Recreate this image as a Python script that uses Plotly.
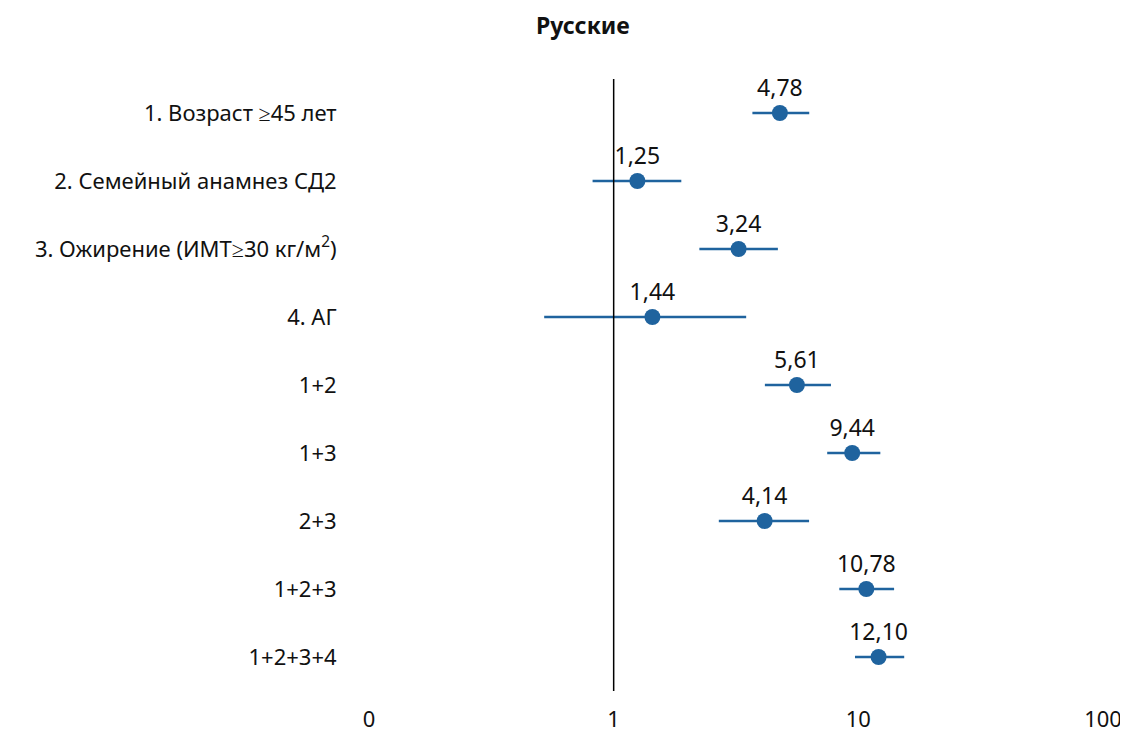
import plotly.graph_objects as go

categories = ["1. Возраст ≥45 лет", "2. Семейный анамнез СД2", "3. Ожирение (ИМТ≥30 кг/м<sup>2</sup>)",
              "4. АГ", "1+2", "1+3", "2+3", "1+2+3", "1+2+3+4"]
odds = [4.78, 1.25, 3.24, 1.44, 5.61, 9.44, 4.14, 10.78, 12.10]
ci_low = [3.69, 0.82, 2.24, 0.52, 4.15, 7.46, 2.69, 8.36, 9.69]
ci_high = [6.30, 1.89, 4.69, 3.48, 7.73, 12.30, 6.29, 14.0, 15.4]
labels = [f"{v:.2f}".replace(".", ",") for v in odds]
tick_vals = [0.1, 1, 10, 100]
tick_text = ["0", "1", "10", "100"]

color = "#1f639e"
font = "Noto Sans"

# the page body has an 8px margin, so the figure is drawn 8px in from the top-left
W, H = 1120, 730
L, R, T, B = 361, 25, 71, 47

fig = go.Figure()
fig.add_trace(go.Scatter(
    x=odds, y=categories, mode="markers+text",
    marker=dict(size=16, color=color),
    text=labels, textposition="top center",
    textfont=dict(size=23, color="#111111", family=font),
    error_x=dict(type="data", symmetric=False,
                 array=[h - v for h, v in zip(ci_high, odds)],
                 arrayminus=[v - l for v, l in zip(odds, ci_low)],
                 color=color, thickness=2.5, width=0),
    showlegend=False, cliponaxis=False,
))
fig.add_vline(x=1, line=dict(color="black", width=1.5))

fig.update_layout(
    width=W, height=H,
    margin=dict(l=L, r=R, t=T, b=B),
    plot_bgcolor="white", paper_bgcolor="white",
    font=dict(family=font, size=22, color="#111111"),
    xaxis=dict(type="log", range=[-1, 2], tickvals=tick_vals, ticktext=tick_text,
               showgrid=False, zeroline=False, showline=False, automargin=False,
               ticks="outside", ticklen=9, tickcolor="rgba(0,0,0,0)",
               tickfont=dict(size=22)),
    yaxis=dict(showgrid=False, zeroline=False, showline=False, automargin=False,
               ticks="outside", ticklen=27, tickcolor="rgba(0,0,0,0)",
               tickfont=dict(size=22), range=[8.5, -0.5]),
    annotations=[dict(text="<b>Русские</b>", xref="paper", yref="paper",
                      x=(583 - 369) / (W - L - R), y=1 + (79 - 25) / (H - T - B),
                      xanchor="center", yanchor="middle",
                      showarrow=False, font=dict(size=23, family=font))],
)
fig.write_html("out.html")
